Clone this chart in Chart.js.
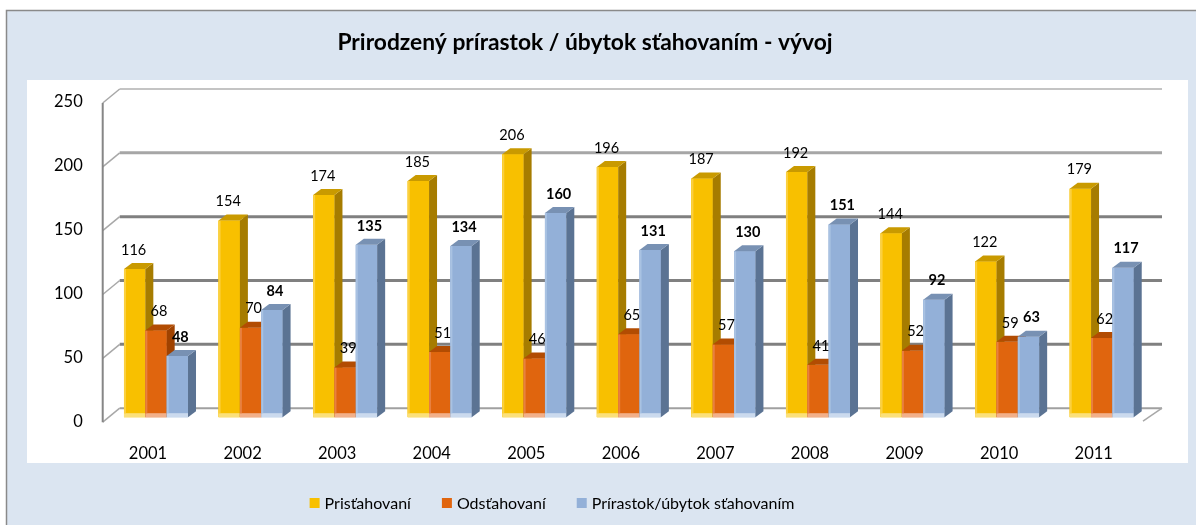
<!DOCTYPE html>
<html><head><meta charset="utf-8">
<script src="https://cdn.jsdelivr.net/npm/chart.js@4.4.1/dist/chart.umd.min.js"></script>
<style>html,body{margin:0;padding:0;background:#fff}#wrap{width:1196px;height:525px}</style>
</head><body><div id="wrap"><canvas id="c" width="1196" height="525"></canvas></div>
<script>
const years = ['2001','2002','2003','2004','2005','2006','2007','2008','2009','2010','2011'];
const pristahovani = [116,154,174,185,206,196,187,192,144,122,179];
const odstahovani = [68,70,39,51,46,65,57,41,52,59,62];
const prirastok = [48,84,135,134,160,131,130,151,92,63,117];
const seriesNames = ['Prisťahovaní','Odsťahovaní','Prírastok/úbytok sťahovaním'];
const yTicks = [0,50,100,150,200,250];
const titleText = 'Prirodzený prírastok / úbytok sťahovaním - vývoj';

const FONT = 'Lato, "Open Sans", sans-serif';
const DX = 8, DY = -6;

const bgPlugin = {
  id: 'bg',
  beforeDraw(chart) {
    const c = chart.ctx;
    c.save();
    c.fillStyle = '#ffffff'; c.fillRect(0,0,chart.width,chart.height);
    c.fillStyle = '#dbe5f1'; c.fillRect(6,10,chart.width-6,chart.height-10);
    c.strokeStyle = '#8a8a8a'; c.lineWidth = 1.5;
    c.beginPath(); c.moveTo(6.5,chart.height); c.lineTo(6.5,10.5); c.lineTo(chart.width,10.5); c.stroke();
    c.fillStyle = '#ffffff'; c.fillRect(27,80,1161,383);
    // title
    c.fillStyle = '#000'; c.textAlign = 'center'; c.textBaseline = 'middle';
    c.font = 'bold 22.8px ' + FONT;
    c.fillText(titleText, 585, 43);
    c.restore();
  },
  afterDraw(chart) {
    // legend
    const c = chart.ctx;
    c.save();
    c.font = '16px ' + FONT;
    c.textBaseline = 'middle'; c.textAlign = 'left';
    const gapBox = 15, gapItem = 31;
    const ws = chart.data.datasets.map(ds => c.measureText(ds.label).width);
    const total = ws.reduce((a, w) => a + 10 + 5 + w, 0) + gapItem * (ws.length - 1);
    let x = 552 - total / 2;
    const y = 503;
    chart.data.datasets.forEach((ds, i) => {
      c.fillStyle = ds.backgroundColor;
      c.fillRect(x, y - 5, 10, 10);
      c.fillStyle = '#000';
      c.fillText(ds.label, x + gapBox, y + 1);
      x += gapBox + ws[i] + gapItem;
    });
    c.restore();
  }
};

const gridPlugin = {
  id: 'grid3d',
  beforeDatasetsDraw(chart) {
    const c = chart.ctx, ys = chart.scales.y, ca = chart.chartArea;
    const fx = ca.left - 6, bx = fx + 17, ex = ca.right + 13;
    const cols = {0:'#a0a0a0',50:'#808080',100:'#808080',150:'#808080',200:'#a6a6a6',250:'#c4c4c4'};
    const wid = {0:2,50:3,100:3,150:3,200:3,250:2};
    c.save();
    yTicks.forEach(v => {
      const y = ys.getPixelForValue(v);
      c.strokeStyle = cols[v]; c.lineWidth = wid[v];
      c.beginPath(); c.moveTo(bx, y-9); c.lineTo(ex, y-9); c.stroke();
      c.strokeStyle = '#a8a8a8'; c.lineWidth = 1.5;
      c.beginPath(); c.moveTo(fx, y+5); c.lineTo(bx, y-9); c.stroke();
    });
    const y0 = ys.getPixelForValue(0);
    c.beginPath(); c.moveTo(ex, y0-9); c.lineTo(ex-19, y0+4); c.stroke();
    c.strokeStyle = '#868686'; c.lineWidth = 2;
    c.beginPath(); c.moveTo(fx, ys.getPixelForValue(250)+5); c.lineTo(fx, y0+5); c.stroke();
    c.restore();
  }
};

const bar3dPlugin = {
  id: 'bar3d',
  afterDatasetsDraw(chart) {
    const c = chart.ctx;
    c.save();
    // repaint bars in series order so that 3D faces overlap correctly
    chart.data.datasets.forEach((ds, i) => {
      const meta = chart.getDatasetMeta(i);
      meta.data.forEach(el => {
        const p = el.getProps(['x','y','base','width'], true);
        const x0 = p.x - p.width/2, x1 = p.x + p.width/2, yt = p.y, yb = p.base;
        c.fillStyle = ds.backgroundColor; c.fillRect(x0, yt, p.width, yb - yt);
        c.fillStyle = ds.stripColor; c.fillRect(x0, yb-4, p.width, 4);
        c.fillStyle = ds.hiColor; c.fillRect(x0, yt, 2, yb-yt-4);
        c.fillStyle = ds.sideColor;
        c.beginPath(); c.moveTo(x1,yt); c.lineTo(x1+DX,yt+DY); c.lineTo(x1+DX,yb+DY); c.lineTo(x1,yb); c.closePath(); c.fill();
        c.fillStyle = ds.topColor;
        c.beginPath(); c.moveTo(x0,yt); c.lineTo(x0+DX,yt+DY); c.lineTo(x1+DX,yt+DY); c.lineTo(x1,yt); c.closePath(); c.fill();
      });
    });
    // data labels
    c.fillStyle = '#000'; c.textAlign = 'center'; c.textBaseline = 'middle';
    chart.data.datasets.forEach((ds, i) => {
      const meta = chart.getDatasetMeta(i);
      c.font = (ds.labelBold ? 'bold ' : '') + '14.5px ' + FONT;
      meta.data.forEach((el, j) => {
        const p = el.getProps(['x','y'], true);
        c.fillText(String(ds.data[j]), p.x + ds.labelDx, p.y - 19);
      });
    });
    c.restore();
  }
};

new Chart(document.getElementById('c'), {
  type: 'bar',
  data: {
    labels: years,
    datasets: [
      {label: seriesNames[0], data: pristahovani, backgroundColor: '#f8c000', sideColor: '#a67c00', topColor: '#c99a00', stripColor: '#fbe07a', hiColor: '#fbd040', labelDx: -1, labelBold: false},
      {label: seriesNames[1], data: odstahovani, backgroundColor: '#e0650e', sideColor: '#a04200', topColor: '#b24c02', stripColor: '#f2b08a', hiColor: '#e88040', labelDx: 3, labelBold: false},
      {label: seriesNames[2], data: prirastok, backgroundColor: '#93b0d8', sideColor: '#5b7393', topColor: '#7891b3', stripColor: '#cbdaee', hiColor: '#a9c2e2', labelDx: 3, labelBold: true}
    ]
  },
  options: {
    responsive: false,
    devicePixelRatio: 1,
    animation: false,
    events: [],
    layout: {padding: {left: 36, right: 47, top: 98, bottom: 42}},
    datasets: {bar: {categoryPercentage: 0.677, barPercentage: 1.0, borderWidth: 0}},
    scales: {
      x: {
        grid: {display: false}, border: {display: false},
        ticks: {color: '#000', font: {family: FONT, size: 16.5}, padding: 19, labelOffset: -8}
      },
      y: {
        min: 0, max: 250,
        grid: {display: false}, border: {display: false},
        ticks: {stepSize: 50, color: '#000', font: {family: FONT, size: 16.5}, padding: 18, labelOffset: 4}
      }
    },
    plugins: {
      tooltip: {enabled: false},
      title: {display: false},
      legend: {display: false}
    }
  },
  plugins: [bgPlugin, gridPlugin, bar3dPlugin]
});
</script></body></html>
